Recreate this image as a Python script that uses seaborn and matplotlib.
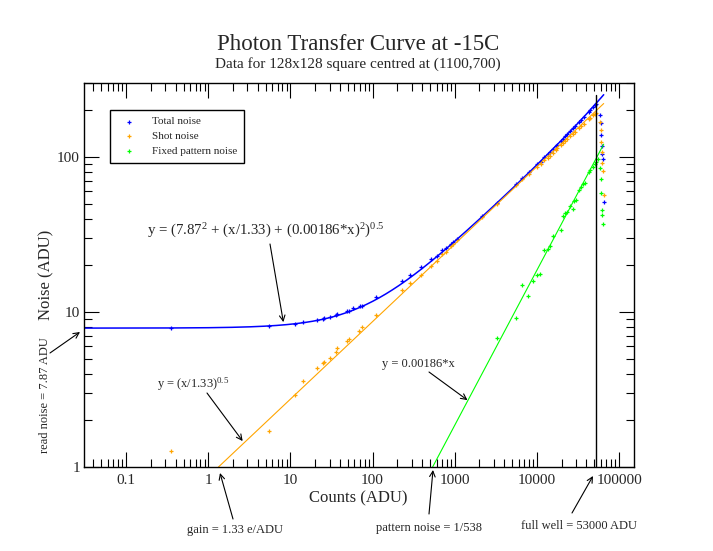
import numpy as np
import matplotlib
matplotlib.use("Agg")
import matplotlib.pyplot as plt
import matplotlib.ticker as mticker
import seaborn as sns

total_x = [0.354, 5.44, 11.3, 14.1, 21.1, 24.6, 25.8, 30.7, 35.4, 36.5, 49.1, 51.3, 57.5, 70, 73.5,
           110, 230, 288, 388, 514, 615, 700, 792, 912, 955, 1080, 2150, 3310, 5630, 6650, 7950,
           10100, 11200, 12300, 13500, 14400, 15500, 17000, 17800, 19600, 20900, 22100, 23300,
           25500, 27500, 29000, 32800, 34500, 37300, 42600, 44600, 48000, 50300, 52600,
           58600, 60800, 60800, 62500, 62500, 63000, 65800]
total_y = [7.88, 8.13, 8.33, 8.59, 8.88, 9.0, 9.1, 9.29, 9.6, 9.65, 10.1, 10.2, 10.6, 10.9, 11.0,
           12.4, 15.8, 17.3, 19.4, 21.9, 23.1, 25.0, 26.0, 27.5, 28.4, 29.7, 41.8, 50.7, 66.6, 73.5, 79.7,
           89.7, 93.3, 99.5, 104.7, 108, 112, 117, 120, 126, 131, 136, 140,
           147, 153, 158, 168, 174, 182, 196, 201, 210, 215, 220,
           187, 165, 138, 117, 105, 97, 51.6]

shot_x = [0.354, 5.44, 11.3, 14.1, 21.1, 24.6, 25.8, 30.7, 35.4, 36.5, 49.1, 51.3, 67.6, 73.5,
          110, 230, 288, 388, 514, 615, 700, 792, 912, 955, 1080, 2150, 3310, 5630, 6650, 7950,
          10100, 11200, 12300, 13500, 14400, 15500, 17000, 17800, 19600, 20900, 22100, 23300,
          25500, 27500, 29000, 32800, 34500, 37300, 42600, 44600, 48000, 50300, 52600,
          58600, 60800, 60800, 62500, 62500, 64300, 65800]
shot_y = [1.27, 1.71, 2.9, 3.59, 4.33, 4.67, 4.78, 5.03, 5.5, 5.85, 6.53, 6.7, 7.57, 7.97,
          9.5, 13.8, 15.3, 17.4, 19.9, 21.4, 23.5, 24.5, 26.5, 27.3, 29.0, 40.8, 50, 65.5, 72, 78,
          86, 90.5, 95, 99, 102, 106, 111, 114, 119, 123, 126, 130,
          136, 141, 145, 154, 158, 164, 175, 179, 186, 190, 193,
          168, 149, 124, 107, 91, 81, 56.5]

fixed_x = [3310, 5630, 6500, 7800, 9000, 9900, 10800, 12300, 13500, 14400, 15500, 19600, 20900,
           22100, 23300, 25500, 27500, 28500, 29600, 32800, 34500, 36700, 38500, 42600, 44600,
           48000, 50300, 52600, 55600,
           58600, 60800, 60800, 62500, 62500, 64300]
fixed_y = [6.77, 9.1, 14.9, 12.7, 15.9, 17.3, 17.5, 25.0, 25.4, 26.5, 30.9, 33.8, 41.5,
           43.5, 44.0, 48.4, 46.0, 52.0, 52.8, 61.0, 63.7, 66.7, 68.3, 80.0, 82.0,
           86.7, 90.2, 92.9, 96.9,
           84.3, 71.9, 58.2, 45.5, 42.5, 37.2]

# Fit parameters shown in the annotations
read_noise = 7.87
gain = 1.33
pattern = 0.00186
full_well = 53000
fit_end = 65000

x_ticks = [0.1, 1, 10, 100, 1000, 10000, 100000]
y_ticks = [1, 10, 100]

sns.set_style("ticks")
plt.rcParams["font.family"] = ["Liberation Serif", "DejaVu Serif"]
plt.rcParams["mathtext.fontset"] = "custom"
plt.rcParams["mathtext.rm"] = "Liberation Serif"
plt.rcParams["mathtext.it"] = "Liberation Serif"

W, H = 713, 551
fig = plt.figure(figsize=(W / 100, H / 100), dpi=100)
ax = fig.add_axes([84 / W, 1 - 467 / H, 550 / W, 384 / H])

blue, orange, green = "#0000ff", "#ffa500", "#00ff00"

# fit lines
xf = np.logspace(np.log10(0.03), np.log10(fit_end), 400)
ax.plot(xf, np.sqrt(read_noise**2 + xf / gain + (pattern * xf) ** 2), color=blue, lw=1.1)
xs = np.logspace(np.log10(gain), np.log10(fit_end), 200)
ax.plot(xs, np.sqrt(xs / gain), color=orange, lw=0.8)
xp = np.logspace(np.log10(1 / pattern), np.log10(fit_end), 200)
ax.plot(xp, pattern * xp, color=green, lw=0.8)

sns.scatterplot(x=total_x, y=total_y, marker="+", color=blue, s=10, linewidth=0.9, label="Total noise", ax=ax)
sns.scatterplot(x=shot_x, y=shot_y, marker="+", color=orange, s=10, linewidth=0.9, label="Shot noise", ax=ax)
sns.scatterplot(x=fixed_x, y=fixed_y, marker="+", color=green, s=10, linewidth=0.9, label="Fixed pattern noise", ax=ax)

ax.plot([full_well, full_well], [1, 250], color="black", lw=1)

ax.set_xscale("log")
ax.set_yscale("log")
ax.set_xlim(0.0307, 152000)
ax.set_ylim(1, 300)
ax.set_xticks(x_ticks)
ax.set_yticks(y_ticks)
fmt = mticker.FuncFormatter(lambda v, p: "{:.10g}".format(v))
ax.xaxis.set_major_formatter(fmt)
ax.yaxis.set_major_formatter(fmt)
ax.xaxis.set_minor_formatter(mticker.NullFormatter())
ax.yaxis.set_minor_formatter(mticker.NullFormatter())
ax.tick_params(which="both", direction="in", top=True, right=True, width=0.8, labelsize=11, color="black")
ax.tick_params(which="major", length=11, pad=5)
ax.tick_params(which="minor", length=6)
ax.tick_params(axis="y", which="major", pad=3)
for s in ax.spines.values():
    s.set_color("black")
    s.set_linewidth(1)

ax.set_xlabel("Counts (ADU)", fontsize=12)
ax.xaxis.set_label_coords((358 - 84) / 550, (467 - 490) / 384)
ax.set_ylabel("Noise (ADU)", fontsize=12)
ax.yaxis.set_label_coords((54 - 84) / 550, 0.5)

leg = ax.legend(loc="upper left", bbox_to_anchor=(26 / 550, (467 - 110) / 384), fontsize=8,
                frameon=True, fancybox=False, edgecolor="black", framealpha=1, borderaxespad=0,
                handlelength=2.2, handletextpad=1.0, labelspacing=0.45, borderpad=0.6,
                markerscale=1.0)
leg.get_frame().set_linewidth(1)

fig.text(358 / W, 1 - 44 / H, "Photon Transfer Curve at -15C", ha="center", va="center", fontsize=16.5)
fig.text(358 / W, 1 - 64 / H, "Data for 128x128 square centred at (1100,700)", ha="center", va="center", fontsize=11)

def fpx(x, y):
    return (x, H - y)

arrow = dict(arrowstyle="->", color="black", lw=0.8, shrinkA=0, shrinkB=0)

fig.text(266 / W, 1 - 231 / H, r"y = (7.87$^2$ + (x/1.33) + (0.00186*x)$^2$)$^{0.5}$", ha="center", va="center", fontsize=10.7)
ax.annotate("", xy=(8.2, 8.6), xycoords="data", xytext=fpx(270, 244), textcoords="figure pixels", arrowprops=arrow)

fig.text(193 / W, 1 - 384 / H, r"y = (x/1.33)$^{0.5}$", ha="center", va="center", fontsize=9)
ax.annotate("", xy=(2.62, 1.47), xycoords="data", xytext=fpx(207, 393), textcoords="figure pixels", arrowprops=arrow)

fig.text(418 / W, 1 - 364 / H, "y = 0.00186*x", ha="center", va="center", fontsize=9)
ax.annotate("", xy=(1429, 2.7), xycoords="data", xytext=fpx(429, 372), textcoords="figure pixels", arrowprops=arrow)

fig.text(45 / W, 1 - 395 / H, "read noise = 7.87 ADU", ha="center", va="center", rotation=90, fontsize=9)
ax.annotate("", xy=fpx(80, 332), xycoords="figure pixels", xytext=fpx(50, 353), textcoords="figure pixels",
            arrowprops=arrow, annotation_clip=False)

fig.text(235 / W, 1 - 530 / H, "gain = 1.33 e/ADU", ha="center", va="center", fontsize=9)
ax.annotate("", xy=fpx(220, 473), xycoords="figure pixels", xytext=fpx(233, 519), textcoords="figure pixels",
            arrowprops=arrow, annotation_clip=False)

fig.text(429 / W, 1 - 528 / H, "pattern noise = 1/538", ha="center", va="center", fontsize=9)
ax.annotate("", xy=fpx(433, 470), xycoords="figure pixels", xytext=fpx(429, 514), textcoords="figure pixels",
            arrowprops=arrow, annotation_clip=False)

fig.text(579 / W, 1 - 526 / H, "full well = 53000 ADU", ha="center", va="center", fontsize=9)
ax.annotate("", xy=fpx(593, 476), xycoords="figure pixels", xytext=fpx(572, 513), textcoords="figure pixels",
            arrowprops=arrow, annotation_clip=False)

fig.savefig("out.png", dpi=100, facecolor="white")
